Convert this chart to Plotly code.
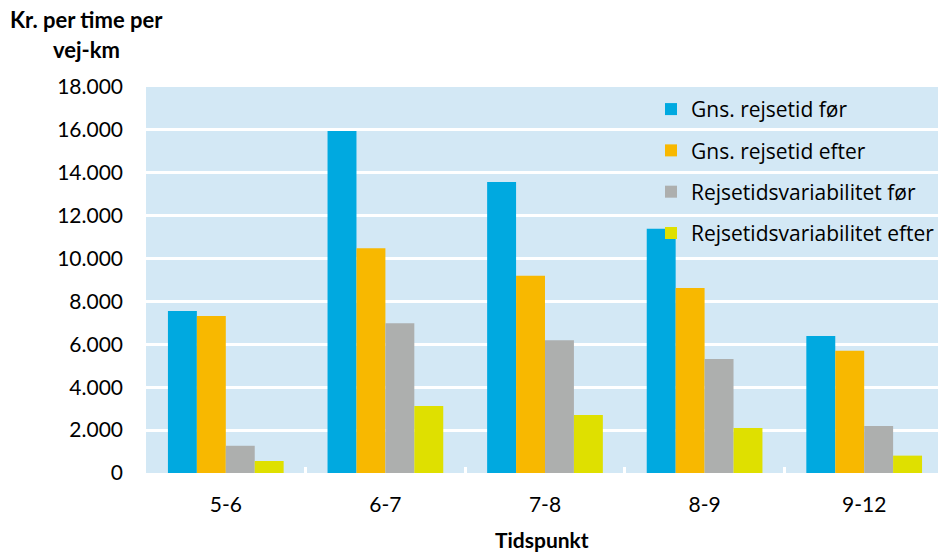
import plotly.graph_objects as go

# Cost per hour per road-km, by time slot
tidspunkter = ["5-6", "6-7", "7-8", "8-9", "9-12"]
gns_foer = [7550, 15950, 13570, 11390, 6390]
gns_efter = [7320, 10480, 9200, 8630, 5700]
var_foer = [1270, 6980, 6190, 5320, 2190]
var_efter = [560, 3120, 2700, 2100, 810]

serier = [
    ("Gns. rejsetid før", gns_foer, "#00A9E0"),
    ("Gns. rejsetid efter", gns_efter, "#F8B800"),
    ("Rejsetidsvariabilitet før", var_foer, "#ADAFAE"),
    ("Rejsetidsvariabilitet efter", var_efter, "#DFE000"),
]

FONT = "Lato"
PW, PH = 794, 386  # plot area in px

fig = go.Figure()
for i, (navn, vaerdier, farve) in enumerate(serier):
    fig.add_trace(go.Bar(
        x=tidspunkter, y=vaerdier, name=navn,
        marker=dict(color=farve, line=dict(width=0)),
        legendgroup=f"g{i}",
    ))

fig.update_layout(
    width=940, height=552,
    margin=dict(l=146, r=0, t=87, b=79),
    paper_bgcolor="white",
    plot_bgcolor="#D3E8F5",
    barmode="group",
    bargap=0.275,
    bargroupgap=0,
    font=dict(family=FONT, size=21, color="black"),
    legend=dict(
        x=0.638, y=0.995, xanchor="left", yanchor="top",
        bgcolor="rgba(0,0,0,0)",
        font=dict(family="Open Sans", size=21, color="black"),
        tracegroupgap=11,
        itemwidth=30,
    ),
    showlegend=True,
    xaxis=dict(
        range=[-0.5, 4.4625],
        showgrid=False,
        ticks="inside", tickson="boundaries", ticklen=6, tickwidth=3,
        tickcolor="white",
        showline=False,
        ticklabelstandoff=17,
        tickfont=dict(family=FONT, size=21),
        zeroline=False,
    ),
    yaxis=dict(
        range=[0, 18000],
        tickvals=list(range(0, 18001, 2000)),
        ticktext=["0"] + [f"{v // 1000}.000" for v in range(2000, 18001, 2000)],
        gridcolor="white", gridwidth=3,
        showline=False, zeroline=False,
        ticklabelstandoff=22,
        tickfont=dict(family=FONT, size=21),
    ),
    annotations=[
        dict(text="<b>Kr. per time per</b>",
             xref="paper", yref="paper", x=(86 - 146) / PW, y=1 + (87 - 19) / PH,
             xanchor="center", yanchor="middle", showarrow=False,
             font=dict(family=FONT, size=22)),
        dict(text="<b>vej-km</b>",
             xref="paper", yref="paper", x=(86 - 146) / PW, y=1 + (87 - 49) / PH,
             xanchor="center", yanchor="middle", showarrow=False,
             font=dict(family=FONT, size=22)),
        dict(text="<b>Tidspunkt</b>",
             xref="paper", yref="paper", x=0.5, y=-(539 - 473) / PH,
             xanchor="center", yanchor="middle", showarrow=False,
             font=dict(family=FONT, size=21)),
    ],
)

fig.write_html("out.html")
